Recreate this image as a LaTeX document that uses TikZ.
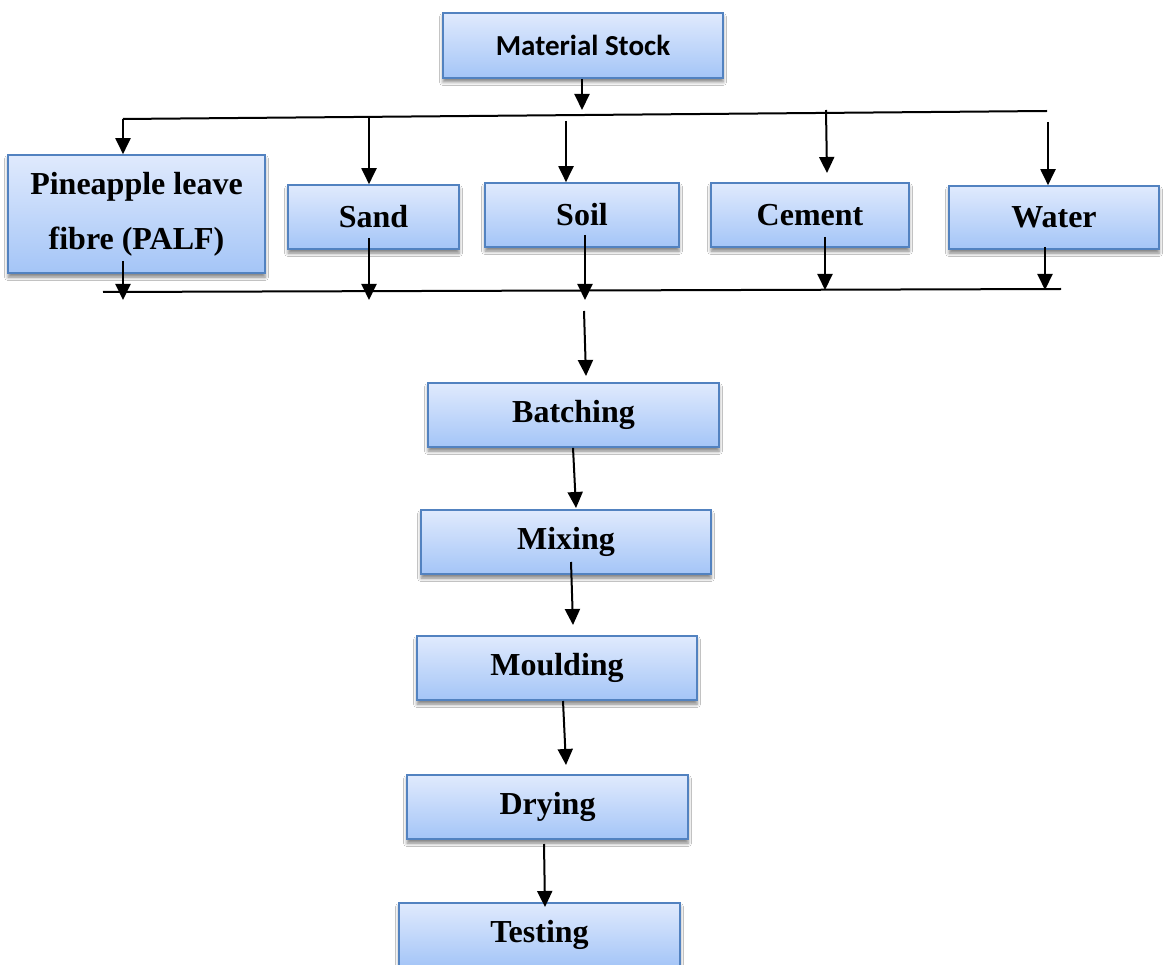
\documentclass[tikz,border=0pt]{standalone}
\usepackage{fontspec}
\setmainfont{Liberation Serif}
\newfontfamily\calibfont{Carlito}
\usetikzlibrary{arrows.meta,shadows.blur,calc}
\definecolor{boxtop}{RGB}{224,234,253}
\definecolor{boxbot}{RGB}{164,197,247}
\definecolor{boxline}{RGB}{82,130,192}
\tikzset{
  box/.style={draw=boxline, line width=1.6pt, top color=boxtop, bottom color=boxbot,
    inner sep=0pt, align=center, font=\fontsize{32}{55}\selectfont\bfseries,
    blur shadow={shadow xshift=0pt, shadow yshift=-4pt, shadow blur radius=3.5pt, shadow opacity=50}},
  trunk/.style={line width=2pt, black},
  arr/.style={line width=2pt, black, -{Triangle[width=15pt,length=16pt]}},
}
\begin{document}
\begin{tikzpicture}[x=1pt,y=-1pt]
\clip (0,0) rectangle (1165,965);
\useasboundingbox (0,0) rectangle (1165,965);
\fill[white] (0,0) rectangle (1165,965);

% boxes
\node[box, minimum width=280pt, minimum height=65pt, font=\fontsize{29}{31}\selectfont\calibfont\bfseries] (ms) at (583,45.5) {Material Stock};
\node[box, minimum width=257pt, minimum height=118pt] (palf) at (136.5,214) {Pineapple leave\\fibre (PALF)};
\node[box, minimum width=171pt, minimum height=64pt] (sand) at (373.5,217) {Sand};
\node[box, minimum width=194pt, minimum height=64pt] (soil) at (582,215) {Soil};
\node[box, minimum width=198pt, minimum height=64pt] (cement) at (810,215) {Cement};
\node[box, minimum width=210pt, minimum height=63pt] (water) at (1054,217.5) {Water};
\node[box, minimum width=291pt, minimum height=64pt] (batch) at (573.5,415) {Batching};
\node[box, minimum width=290pt, minimum height=64pt] (mix) at (566,542) {Mixing};
\node[box, minimum width=280pt, minimum height=64pt] (mould) at (557,668) {Moulding};
\node[box, minimum width=281pt, minimum height=64pt] (dry) at (547.5,807) {Drying};
\node[box, minimum width=281pt, minimum height=64pt] (test) at (539.5,935) {Testing};

% distribution line (top)
\coordinate (tl) at (123,119);
\coordinate (tr) at (1047,111);
\draw[trunk] (tl) -- (tr);
\coordinate (m1) at (582,110);
\draw[arr] (ms.south -| m1) -- (m1);

\draw[arr] (tl) -- (palf.north -| tl);
\coordinate (s1) at (369,117);
\draw[arr] (s1) -- (sand.north -| s1);
\coordinate (so1) at (566,121);
\draw[arr] (so1) -- (soil.north -| so1);
\coordinate (c1) at (826,110);
\coordinate (c2) at (827,173);
\draw[arr] (c1) -- (c2);
\coordinate (w1) at (1048,122);
\draw[arr] (w1) -- (water.north -| w1);

% collection line (bottom)
\coordinate (bl) at (103,292);
\coordinate (br) at (1061,289);
\draw[trunk] (bl) -- (br);
\coordinate (pb1) at (123,261); \coordinate (pb2) at (123,300);
\draw[arr] (pb1) -- (pb2);
\coordinate (sb1) at (369,238); \coordinate (sb2) at (369,300);
\draw[arr] (sb1) -- (sb2);
\coordinate (ob1) at (585,235); \coordinate (ob2) at (585,300);
\draw[arr] (ob1) -- (ob2);
\coordinate (cb1) at (825,237); \coordinate (cb2) at (825,290);
\draw[arr] (cb1) -- (cb2);
\coordinate (wb1) at (1045,247); \coordinate (wb2) at (1045,290);
\draw[arr] (wb1) -- (wb2);

% process chain
\coordinate (k1) at (584,311); \coordinate (k2) at (586,376);
\draw[arr] (k1) -- (k2);
\coordinate (k3) at (576,508);
\draw[arr] (batch.south -| 573,0) -- (k3);
\coordinate (k4) at (571,562); \coordinate (k5) at (573,625);
\draw[arr] (k4) -- (k5);
\coordinate (k6) at (563,701); \coordinate (k7) at (566,765);
\draw[arr] (k6) -- (k7);
\coordinate (k8) at (544,844); \coordinate (k9) at (545,907);
\draw[arr] (k8) -- (k9);
\end{tikzpicture}
\end{document}
